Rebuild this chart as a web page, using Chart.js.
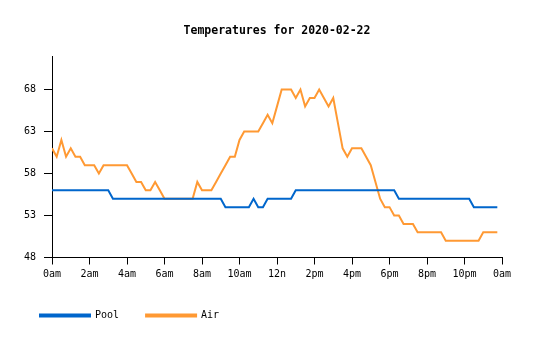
<!DOCTYPE html>
<html>
<head>
<meta charset="utf-8">
<script src="https://cdn.jsdelivr.net/npm/chart.js@4/dist/chart.umd.min.js"></script>
<style>
  html, body { margin: 0; padding: 0; background: #fff; }
  #wrap { width: 535px; height: 340px; position: relative; }
</style>
</head>
<body>
<div id="wrap"><canvas id="c" width="535" height="340"></canvas></div>
<script>
const chartTitle = "Temperatures for 2020-02-22";
const xTickLabels = ["0am","2am","4am","6am","8am","10am","12n","2pm","4pm","6pm","8pm","10pm","0am"];
const yTickValues = [48, 53, 58, 63, 68];
// readings every 15 minutes from 0:00 to 23:45
const poolTemps = [
  56,56,56,56,56,56,56,56,56,56,56,56,56,55,55,55,
  55,55,55,55,55,55,55,55,55,55,55,55,55,55,55,55,
  55,55,55,55,55,54,54,54,54,54,54,55,54,54,55,55,
  55,55,55,55,56,56,56,56,56,56,56,56,56,56,56,56,
  56,56,56,56,56,56,56,56,56,56,55,55,55,55,55,55,
  55,55,55,55,55,55,55,55,55,55,54,54,54,54,54,54
];
const airTemps = [
  61,60,62,60,61,60,60,59,59,59,58,59,59,59,59,59,
  59,58,57,57,56,56,57,56,55,55,55,55,55,55,55,57,
  56,56,56,57,58,59,60,60,62,63,63,63,63,64,65,64,
  66,68,68,68,67,68,66,67,67,68,67,66,67,64,61,60,
  61,61,61,60,59,57,55,54,54,53,53,52,52,52,51,51,
  51,51,51,51,50,50,50,50,50,50,50,50,51,51,51,51
];
const seriesNames = ["Pool", "Air"];
const seriesColors = ["#0066cc", "#ff9933"];
const hoursPerReading = 0.25;

const toPoints = arr => arr.map((v, i) => ({ x: i * hoursPerReading, y: v }));
const mono = "'DejaVu Sans Mono', 'Liberation Mono', monospace";

// title centred over the plot area
const titlePlugin = {
  id: 'plotTitle',
  afterDraw(chart) {
    const { ctx, chartArea } = chart;
    ctx.save();
    ctx.font = "bold 11.5px " + mono;
    ctx.fillStyle = '#000';
    ctx.textAlign = 'center';
    ctx.textBaseline = 'middle';
    ctx.fillText(chartTitle, (chartArea.left + chartArea.right) / 2, 31);
    ctx.restore();
  }
};

new Chart(document.getElementById('c'), {
  type: 'line',
  data: {
    datasets: [
      { label: seriesNames[0], data: toPoints(poolTemps), borderColor: seriesColors[0], backgroundColor: seriesColors[0], borderWidth: 2, pointRadius: 0, tension: 0 },
      { label: seriesNames[1], data: toPoints(airTemps), borderColor: seriesColors[1], backgroundColor: seriesColors[1], borderWidth: 2, pointRadius: 0, tension: 0 }
    ]
  },
  plugins: [titlePlugin],
  options: {
    responsive: false,
    animation: false,
    devicePixelRatio: 1,
    layout: { padding: { left: 13, right: 33, top: 56, bottom: 9.5 } },
    plugins: {
      tooltip: { enabled: false },
      title: { display: false },
      legend: {
        display: true,
        position: 'bottom',
        align: 'start',
        labels: {
          boxWidth: 50,
          boxHeight: 2,
          padding: 27,
          color: '#000',
          font: { family: mono, size: 10 }
        }
      }
    },
    scales: {
      x: {
        type: 'linear',
        min: 0,
        max: 24,
        afterBuildTicks: s => { s.ticks = xTickLabels.map((_, k) => ({ value: k * 2 })); },
        afterFit: s => { s.height = 26; },
        ticks: {
          color: '#000',
          padding: 4,
          maxRotation: 0,
          autoSkip: false,
          font: { family: mono, size: 10 },
          callback: (v, idx) => xTickLabels[idx]
        },
        grid: { display: true, drawOnChartArea: false, drawTicks: true, tickLength: 7, color: '#000' },
        border: { display: true, color: '#000', width: 1 }
      },
      y: {
        type: 'linear',
        min: 48,
        max: 72,
        afterBuildTicks: s => { s.ticks = yTickValues.map(v => ({ value: v })); },
        afterFit: s => { s.width = 39; },
        ticks: {
          color: '#000',
          padding: 8,
          font: { family: mono, size: 10 },
          callback: v => String(v)
        },
        grid: { display: true, drawOnChartArea: false, drawTicks: true, tickLength: 8, color: '#000' },
        border: { display: true, color: '#000', width: 1 }
      }
    }
  }
});
</script>
</body>
</html>
